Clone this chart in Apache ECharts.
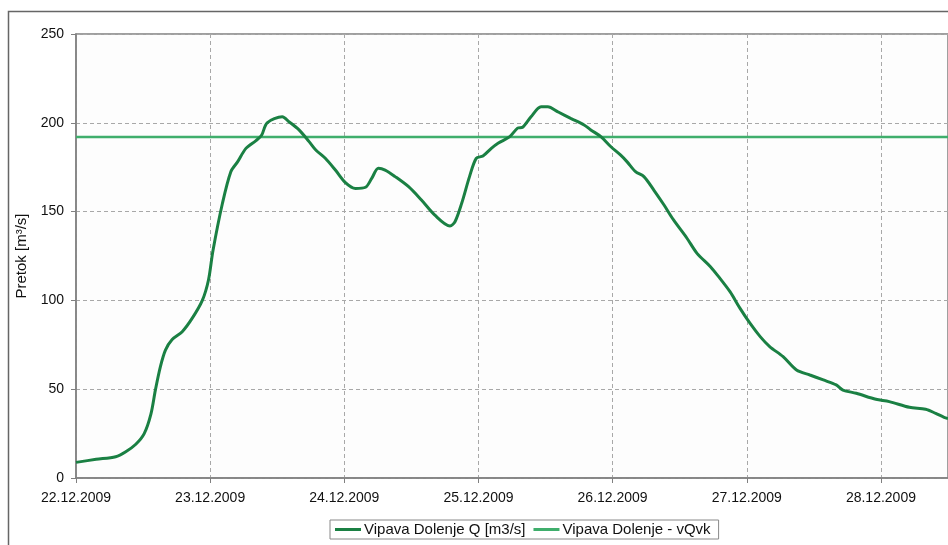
<!DOCTYPE html>
<html>
<head>
<meta charset="utf-8">
<script src="https://cdn.jsdelivr.net/npm/echarts@6/dist/echarts.min.js"></script>
<style>
html,body{margin:0;padding:0;background:#fff;}
#c{width:948px;height:545px;}
</style>
</head>
<body>
<div id="c"></div>
<script>
// hours since 22.12.2009 00:00
const hours = [0,3.6,7.1,8.9,10.7,12.2,13.4,14.2,15.1,16.0,17.2,19.0,20.8,22.6,23.7,24.5,26.2,27.7,28.9,30.4,32.2,33.2,34.2,36.9,38.1,39.9,41.7,42.9,44.6,46.4,48.2,50.0,51.8,52.9,54.1,55.3,57.1,59.5,61.8,64.2,66.9,67.8,69.0,70.4,71.6,72.8,74.3,75.5,77.6,79.0,79.9,81.4,83.2,84.4,86.2,88.5,90.9,92.1,93.9,95.7,97.4,98.6,100.1,101.6,103.4,105.2,106.9,109.3,111.1,113.5,115.2,117.0,118.8,120.6,122.4,124.1,126.5,128.9,131.3,133.7,136.0,137.2,139.6,143.1,145.5,149.1,152.0,153.8,155.3,156];
const flowQ = [8.8,10.5,12,14.8,19,25,36,49.5,62.7,72,78,82.4,90,100,111.5,128,154.7,172.5,178,185.6,190,193,200,203.4,200.6,196,189.4,184.7,180,173.4,166.3,163,163.7,168.7,174.4,173.4,169.7,164,156.5,148,141.9,144.3,154.7,169.7,180,181.3,185.6,188.5,192.2,197,197.5,203.4,209,209,206.2,202.5,198.8,196,192.2,186.5,181.9,178,172.5,169.7,162,153.7,145.3,135,126.5,119,112.4,104.9,95.5,87,79.6,74,68.3,60.8,58,55.2,52.4,49.5,47.7,44.3,43,39.8,38.7,36.4,34.2,33.5];
const vQvk = 192;
const xTickLabels = ['22.12.2009','23.12.2009','24.12.2009','25.12.2009','26.12.2009','27.12.2009','28.12.2009'];
const seriesNames = ['Vipava Dolenje Q [m3/s]','Vipava Dolenje - vQvk'];

const qData = hours.map((h,i)=>[h,flowQ[i]]);
const vData = [[0,vQvk],[156,vQvk]];

const chart = echarts.init(document.getElementById('c'));
const font = 'Liberation Sans, Arial, sans-serif';
chart.setOption({
  animation:false,
  backgroundColor:'#fff',
  textStyle:{fontFamily:font},
  graphic:[{type:'rect',shape:{x:8.5,y:11.5,width:1000,height:600},style:{fill:'none',stroke:'#666',lineWidth:1.5},silent:true}],
  grid:{left:76,top:34,right:-4,bottom:67,show:true,borderColor:'#808080',borderWidth:1.5,backgroundColor:'#fdfdfd'},
  legend:{
    left:330,top:520,
    data:seriesNames.map(n=>({name:n,icon:'rect'})),
    itemWidth:26,itemHeight:3,itemGap:8,
    borderColor:'#888',borderWidth:1,padding:[2,8,2,5],
    textStyle:{fontSize:15,color:'#111',fontFamily:font,padding:[0,0,0,-2]}
  },
  xAxis:{
    type:'value',min:0,max:156,interval:24,
    axisLine:{show:true,lineStyle:{color:'#808080',width:1.5}},
    axisTick:{show:true,length:5,lineStyle:{color:'#808080'}},
    axisLabel:{fontSize:14,color:'#111',margin:13,showMaxLabel:false,
      formatter:v=>{const i=Math.round(v/24);return (Math.abs(v-i*24)<0.01 && xTickLabels[i])?xTickLabels[i]:'';}},
    splitLine:{show:true,lineStyle:{color:'#a8a8a8',type:[4,3],width:1}}
  },
  yAxis:{
    type:'value',min:0,max:250,interval:50,
    name:'Pretok [m³/s]',nameLocation:'middle',nameGap:44,nameRotate:90,
    nameTextStyle:{fontSize:15,color:'#111',fontFamily:font},
    axisLine:{show:true,lineStyle:{color:'#808080',width:1.5}},
    axisTick:{show:true,length:5,lineStyle:{color:'#808080'}},
    axisLabel:{fontSize:14,color:'#111',margin:12},
    splitLine:{show:true,lineStyle:{color:'#a8a8a8',type:[4,3],width:1}}
  },
  series:[
    {name:seriesNames[0],type:'line',data:qData,showSymbol:false,smooth:0.3,
      lineStyle:{color:'#1a8043',width:3},itemStyle:{color:'#1a8043'},z:3},
    {name:seriesNames[1],type:'line',data:vData,showSymbol:false,
      lineStyle:{color:'#3fae6c',width:2.5},itemStyle:{color:'#3fae6c'},z:2}
  ]
});
</script>
</body>
</html>
